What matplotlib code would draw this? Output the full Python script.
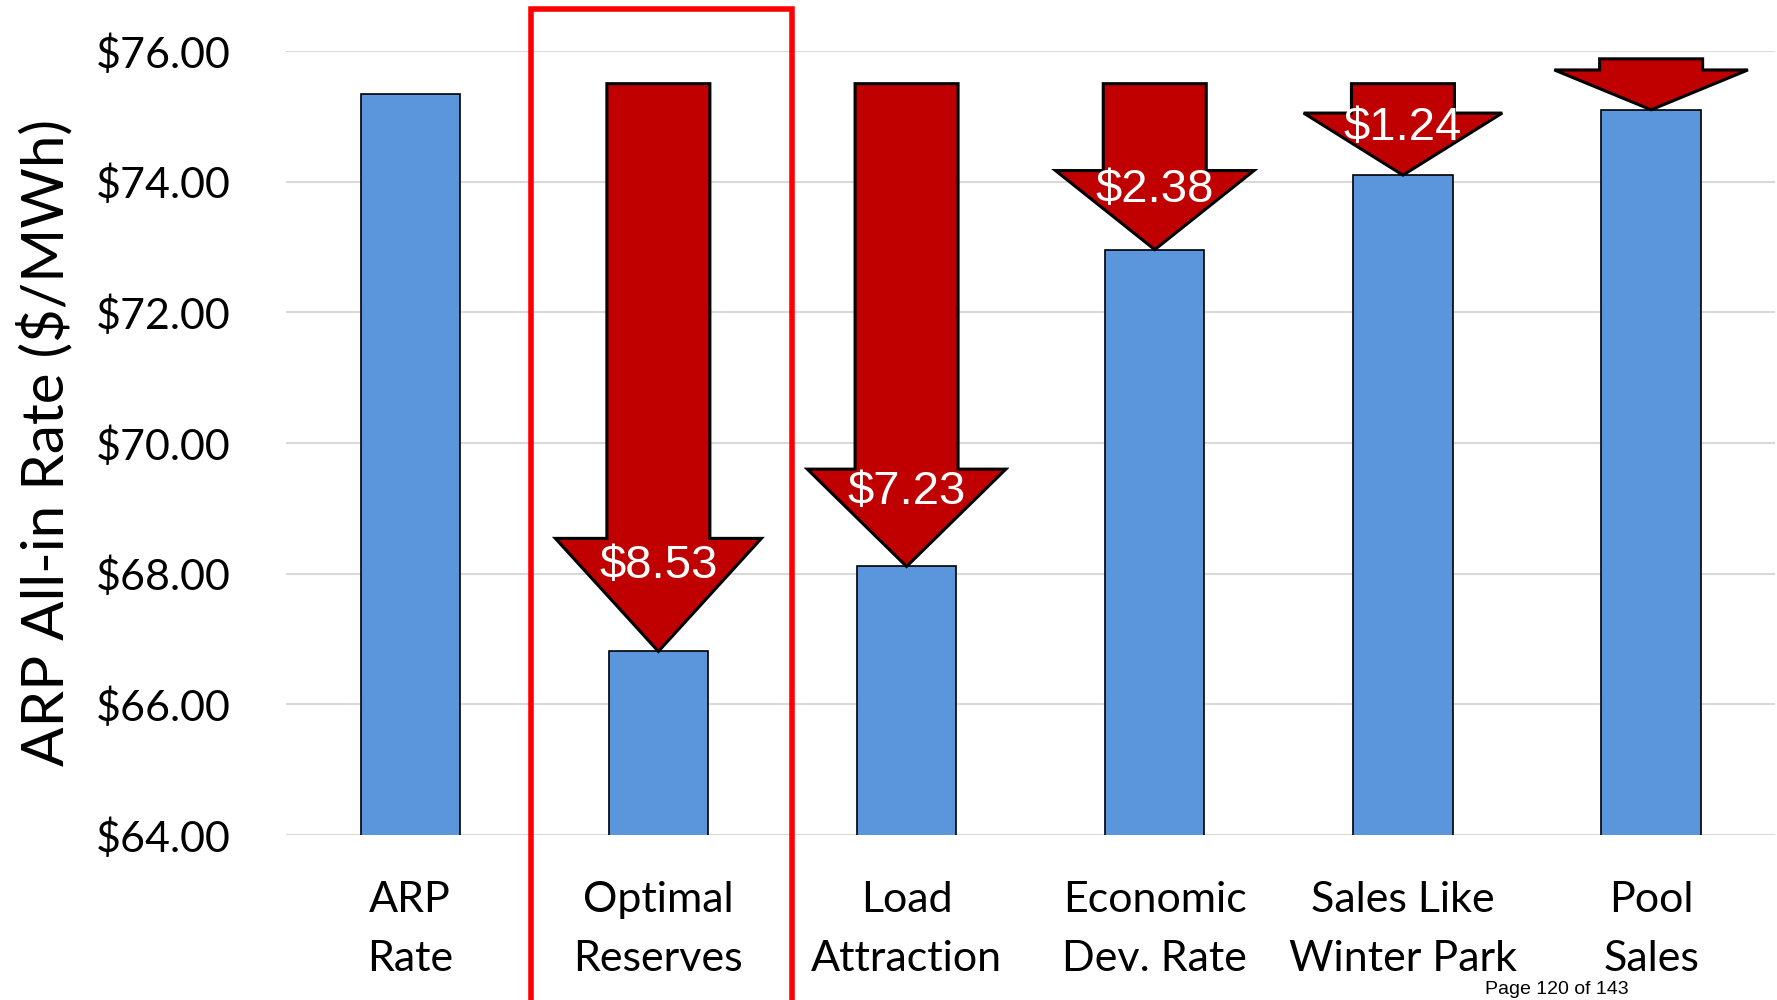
import matplotlib.pyplot as plt
from matplotlib.patches import Polygon, Rectangle

# --- Data ---
categories = ['ARP\nRate', 'Optimal\nReserves', 'Load\nAttraction',
              'Economic\nDev. Rate', 'Sales Like\nWinter Park', 'Pool\nSales']
base_rate = 75.34
drops = [8.53, 7.23, 2.38, 1.24, 0.24]          # savings vs. ARP rate
rates = [base_rate] + [round(base_rate - d, 2) for d in drops]
drop_labels = ['$8.53', '$7.23', '$2.38', '$1.24', '']
yticks = [64, 66, 68, 70, 72, 74, 76]

# --- Arrow styling (per-arrow top, head length in $, head width) ---
arrow_tops = [75.50, 75.50, 75.50, 75.50, 75.88]
head_lengths = [1.73, 1.49, 1.21, 0.95, 0.61]
head_widths = [0.83, 0.80, 0.80, 0.80, 0.78]
SHAFT_W = 0.415

BAR_BLUE = '#5B96DD'
ARROW_RED = '#C00000'

plt.rcParams['font.family'] = ['Lato', 'DejaVu Sans']

fig = plt.figure(figsize=(17.77, 10), dpi=100)
ax = fig.add_axes([0.161, 0.165, 0.838, 0.784])

x = list(range(len(categories)))
ax.bar(x, rates, width=0.40, color=BAR_BLUE, edgecolor='black', linewidth=1.2, zorder=3)

ax.set_xlim(-0.5, 5.5)
ax.set_ylim(64, 76)
ax.set_yticks(yticks)
ax.set_yticklabels([f'${v:.2f}' for v in yticks], fontsize=31)
ax.set_xticks(x)
ax.set_xticklabels(categories, fontsize=31, linespacing=1.68)
ax.tick_params(axis='both', length=0)
ax.tick_params(axis='y', pad=40)
ax.tick_params(axis='x', pad=33)
ax.grid(axis='y', color='#d9d9d9', linewidth=1.5, zorder=0)
ax.set_axisbelow(True)
for s in ax.spines.values():
    s.set_visible(False)

ax.set_ylabel('ARP All-in Rate ($/MWh)', fontsize=42)
ax.yaxis.set_label_coords(-0.143, 0.5)

# Drop arrows from the ARP rate down to each scenario's rate
for i, (top, tip, hl, hw, lab) in enumerate(zip(arrow_tops, rates[1:], head_lengths,
                                               head_widths, drop_labels)):
    cx = i + 1
    base = tip + hl
    pts = [(cx - SHAFT_W / 2, top), (cx + SHAFT_W / 2, top),
           (cx + SHAFT_W / 2, base), (cx + hw / 2, base),
           (cx, tip), (cx - hw / 2, base), (cx - SHAFT_W / 2, base)]
    ax.add_patch(Polygon(pts, closed=True, facecolor=ARROW_RED, edgecolor='black',
                         linewidth=2.2, zorder=4, clip_on=False))
    if lab:
        ax.text(cx, tip + hl * 0.76, lab, ha='center', va='center', color='white',
                fontsize=34, family=['Liberation Sans', 'DejaVu Sans'], zorder=5)

# Highlight box around the optimal reserves scenario
ax.add_patch(Rectangle((0.488, 60.0), 1.05, 16.64, fill=False, edgecolor='#FF0000',
                       linewidth=4, zorder=6, clip_on=False))

fig.text(0.876, 0.002, 'Page 120 of 143', ha='center', va='bottom', fontsize=14,
         family=['Liberation Sans', 'DejaVu Sans'])

fig.savefig('out.png', dpi=100)
